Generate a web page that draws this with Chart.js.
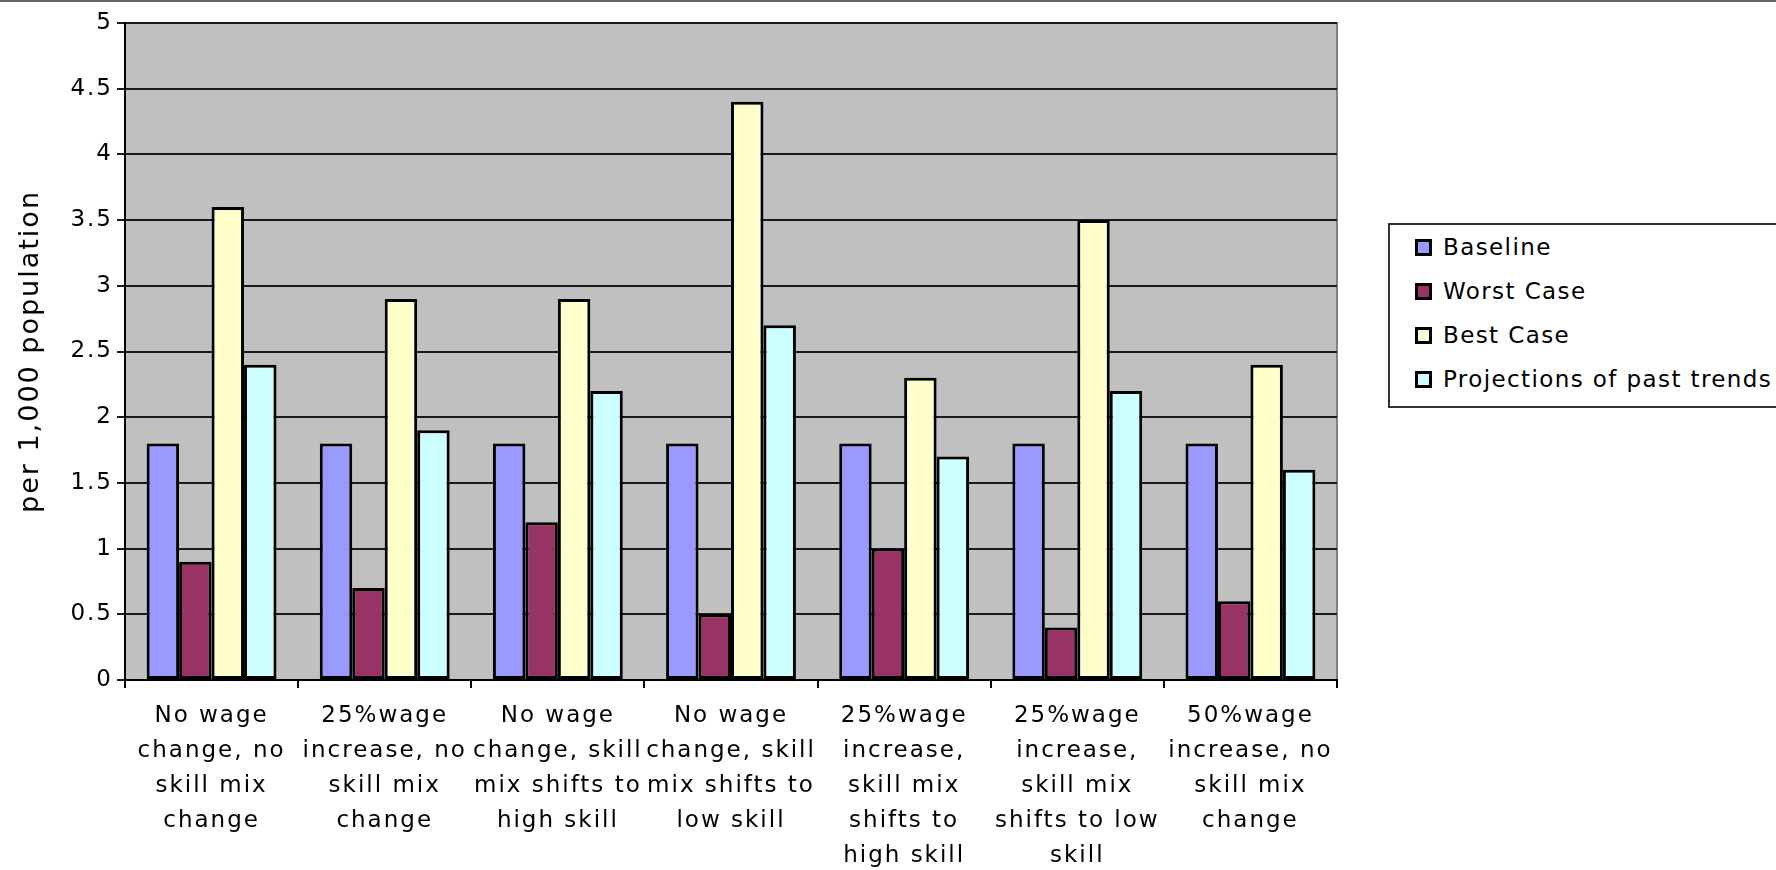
<!DOCTYPE html>
<html>
<head>
<meta charset="utf-8">
<title>per 1,000 population</title>
<script src="https://cdn.jsdelivr.net/npm/chart.js@4/dist/chart.umd.min.js"></script>
<style>
    body { margin: 0; background: #fff; overflow: hidden; }
    #wrap { position: relative; width: 1776px; height: 870px; }
    #topLine { position: absolute; left: 0; top: 0; width: 1776px; height: 2px; background: #666; }
    #legend {
        position: absolute; left: 1388px; top: 223px; width: 420px; height: 181px;
        border: 2px solid #333; background: #fff;
        font-family: 'DejaVu Sans', sans-serif; font-size: 23px; letter-spacing: 1.4px; color: #000;
    }
    .item { position: absolute; left: 0; height: 44px; line-height: 44px; white-space: nowrap; }
    .box { position: absolute; left: 25px; top: 14px; width: 11px; height: 11px; border: 3px solid #000; }
    .label { position: absolute; left: 53px; top: 0; }
</style>
</head>
<body>
<div id="wrap">
    <canvas id="scenarioChart" width="1776" height="870"></canvas>
    <div id="topLine"></div>
    <div id="legend"></div>
</div>
<script>
const categories = [
    ['No wage', 'change, no', 'skill mix', 'change'],
    ['25%wage', 'increase, no', 'skill mix', 'change'],
    ['No wage', 'change, skill', 'mix shifts to', 'high skill'],
    ['No wage', 'change, skill', 'mix shifts to', 'low skill'],
    ['25%wage', 'increase,', 'skill mix', 'shifts to', 'high skill'],
    ['25%wage', 'increase,', 'skill mix', 'shifts to low', 'skill'],
    ['50%wage', 'increase, no', 'skill mix', 'change']
];
const seriesNames = ['Baseline', 'Worst Case', 'Best Case', 'Projections of past trends'];
const seriesColors = ['#9999ff', '#993366', '#ffffcc', '#ccffff'];
const baseline = [1.8, 1.8, 1.8, 1.8, 1.8, 1.8, 1.8];
const worstCase = [0.9, 0.7, 1.2, 0.5, 1.0, 0.4, 0.6];
const bestCase = [3.6, 2.9, 2.9, 4.4, 2.3, 3.5, 2.4];
const pastTrends = [2.4, 1.9, 2.2, 2.7, 1.7, 2.2, 1.6];
const yTitle = 'per 1,000 population';

document.addEventListener('DOMContentLoaded', function () {
    const seriesValues = [baseline, worstCase, bestCase, pastTrends];

    // gray plot area like the old spreadsheet charts
    const plotBackground = {
        id: 'plotBackground',
        beforeDraw(chart) {
            const ctx = chart.ctx;
            const a = chart.chartArea;
            ctx.save();
            ctx.fillStyle = '#c0c0c0';
            ctx.fillRect(a.left, a.top, a.right - a.left, a.bottom - a.top);
            ctx.strokeStyle = '#808080';
            ctx.lineWidth = 2;
            ctx.strokeRect(a.left, a.top, a.right - a.left, a.bottom - a.top);
            ctx.restore();
        }
    };

    // the reference text is wide, spread the letters a bit
    const wideText = {
        id: 'wideText',
        beforeLayout(chart) { chart.ctx.letterSpacing = '2px'; },
        beforeDraw(chart) { chart.ctx.letterSpacing = '2px'; }
    };

    const ctx = document.getElementById('scenarioChart').getContext('2d');
    new Chart(ctx, {
        type: 'bar',
        data: {
            labels: categories,
            datasets: seriesNames.map((name, i) => ({
                label: name,
                data: seriesValues[i],
                backgroundColor: seriesColors[i],
                borderColor: '#000',
                borderWidth: 3,
                borderSkipped: false,
                categoryPercentage: 0.75,
                barPercentage: 1.0
            }))
        },
        options: {
            responsive: false,
            animation: false,
            layout: { padding: { top: 23, right: 439, left: 0, bottom: 0 } },
            plugins: {
                legend: { display: false },
                tooltip: { enabled: false }
            },
            scales: {
                x: {
                    grid: { offset: true, drawOnChartArea: false, color: '#000', lineWidth: 2, tickLength: 8 },
                    border: { color: '#000', width: 2 },
                    ticks: {
                        color: '#000',
                        padding: 11,
                        maxRotation: 0,
                        autoSkip: false,
                        font: { family: 'DejaVu Sans', size: 23, lineHeight: 1.52 }
                    },
                    afterFit(scale) { scale.height = 190; }
                },
                y: {
                    min: 0,
                    max: 5,
                    grid: { color: '#1a1a1a', lineWidth: 2, tickLength: 8 },
                    border: { color: '#000', width: 2 },
                    ticks: {
                        stepSize: 0.5,
                        color: '#000',
                        padding: 4,
                        font: { family: 'DejaVu Sans', size: 23 },
                        callback: value => String(Number(value.toFixed(1)))
                    },
                    title: {
                        display: true,
                        text: yTitle,
                        color: '#000',
                        padding: { top: 15, bottom: 0 },
                        font: { family: 'DejaVu Sans', size: 27, weight: 'normal' }
                    },
                    afterFit(scale) { scale.width = 125; }
                }
            }
        },
        plugins: [plotBackground, wideText]
    });

    const legend = document.getElementById('legend');
    seriesNames.forEach((name, i) => {
        const item = document.createElement('div');
        item.className = 'item';
        item.style.top = (i * 44) + 'px';
        const box = document.createElement('span');
        box.className = 'box';
        box.style.background = seriesColors[i];
        const label = document.createElement('span');
        label.className = 'label';
        label.textContent = name;
        item.appendChild(box);
        item.appendChild(label);
        legend.appendChild(item);
    });
});
</script>
</body>
</html>
